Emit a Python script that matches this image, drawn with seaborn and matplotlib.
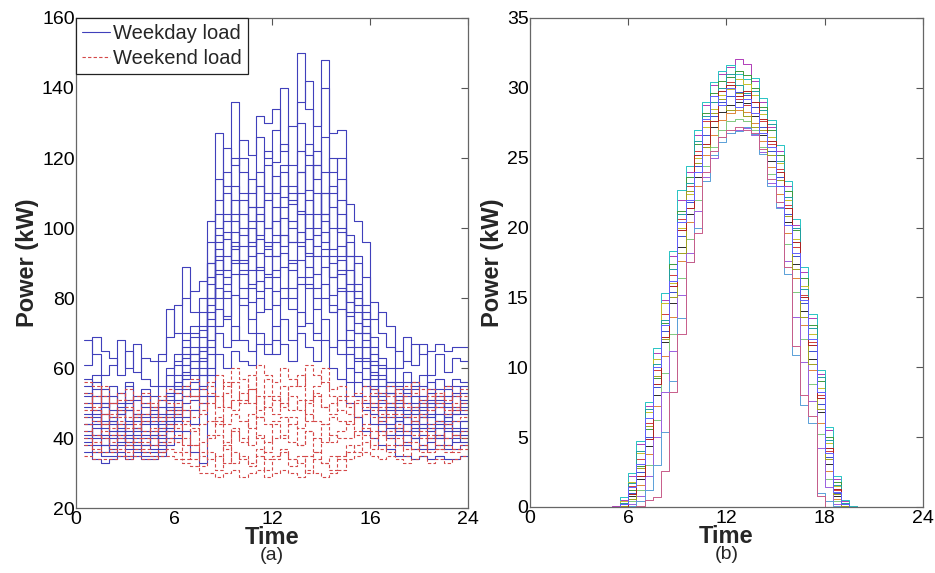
import numpy as np
import pandas as pd
import matplotlib
matplotlib.use("Agg")
import matplotlib.pyplot as plt
from matplotlib.lines import Line2D
import seaborn as sns

# ---------------- data ----------------
# half-hour time stamps (start of each step); last one closes the day
HOURS = list(np.arange(0.5, 24.01, 0.5))

WEEKDAY = {
    "W1": [68, 64, 58, 61, 68, 60, 67, 57, 55, 62, 77, 70,
           89, 76, 80, 96, 127, 112, 136, 116, 110, 126, 120, 128,
           140, 118, 150, 134, 118, 140, 116, 120, 98, 92, 86, 79,
           70, 66, 60, 69, 61, 67, 58, 64, 59, 63, 62, 62],
    "W2": [61, 69, 65, 63, 58, 65, 59, 63, 62, 64, 69, 78,
           80, 82, 85, 102, 108, 123, 118, 125, 121, 132, 130, 134,
           122, 129, 136, 142, 129, 148, 127, 128, 107, 102, 96, 74,
           76, 72, 65, 62, 67, 64, 65, 67, 65, 66, 66, 66],
    "W3": [55, 58, 52, 55, 50, 56, 51, 54, 49, 55, 60, 64,
           70, 72, 76, 90, 114, 104, 120, 110, 106, 116, 110, 119,
           124, 110, 130, 121, 114, 126, 110, 114, 92, 84, 78, 69,
           63, 60, 56, 59, 55, 58, 54, 57, 55, 57, 56, 56],
    "W4": [52, 54, 49, 50, 53, 48, 52, 49, 47, 51, 55, 61,
           66, 69, 71, 86, 100, 102, 108, 104, 102, 106, 108, 110,
           112, 107, 116, 118, 104, 116, 106, 104, 88, 80, 74, 64,
           61, 56, 55, 53, 54, 55, 51, 54, 52, 53, 55, 55],
    "W5": [57, 50, 50, 46, 49, 51, 47, 47, 46, 49, 53, 56,
           63, 64, 72, 80, 98, 97, 104, 100, 95, 104, 100, 106,
           109, 100, 110, 111, 98, 110, 100, 99, 84, 76, 70, 61,
           57, 55, 51, 54, 50, 52, 50, 51, 49, 52, 51, 51],
    "W6": [49, 48, 47, 44, 47, 45, 47, 44, 45, 45, 52, 54,
           58, 62, 65, 78, 94, 92, 99, 95, 92, 97, 95, 102,
           103, 96, 105, 104, 95, 104, 94, 95, 79, 73, 66, 59,
           55, 53, 50, 50, 48, 50, 49, 50, 47, 48, 49, 49],
    "W7": [46, 47, 44, 45, 43, 44, 45, 42, 42, 44, 49, 53,
           57, 60, 63, 74, 91, 88, 95, 91, 88, 93, 92, 96,
           98, 91, 99, 97, 92, 99, 90, 91, 75, 70, 63, 57,
           53, 50, 48, 48, 47, 48, 46, 47, 46, 47, 47, 47],
    "W8": [44, 44, 41, 41, 42, 42, 41, 41, 40, 41, 47, 49,
           55, 56, 60, 72, 87, 84, 91, 87, 83, 89, 87, 92,
           93, 88, 95, 93, 87, 94, 86, 87, 71, 66, 60, 54,
           51, 48, 45, 46, 45, 46, 44, 45, 44, 45, 45, 45],
    "W9": [42, 41, 40, 38, 41, 39, 40, 38, 38, 40, 44, 47,
           52, 54, 58, 68, 83, 80, 87, 83, 79, 85, 83, 88,
           89, 83, 91, 89, 83, 89, 81, 83, 68, 63, 57, 52,
           48, 46, 43, 44, 42, 44, 42, 43, 42, 43, 43, 43],
    "W10": [40, 38, 38, 36, 38, 37, 38, 36, 36, 37, 42, 45,
            50, 51, 55, 64, 77, 75, 81, 78, 74, 80, 77, 82,
            83, 77, 86, 83, 77, 84, 76, 77, 64, 59, 55, 49,
            45, 43, 41, 41, 40, 41, 39, 41, 40, 40, 41, 41],
    "W11": [38, 36, 35, 35, 36, 35, 36, 35, 35, 36, 40, 42,
            46, 48, 50, 58, 70, 66, 72, 68, 65, 70, 67, 72,
            74, 68, 76, 73, 68, 74, 66, 68, 56, 52, 48, 44,
            42, 40, 38, 38, 37, 38, 37, 38, 37, 37, 38, 38],
    "W12": [36, 34, 33, 34, 35, 34, 35, 34, 34, 35, 38, 40,
            42, 36, 33, 52, 64, 60, 65, 62, 61, 67, 64, 68,
            67, 62, 70, 66, 62, 68, 60, 57, 50, 46, 42, 40,
            38, 37, 35, 35, 34, 35, 34, 35, 34, 34, 35, 35],
    "W13": [50, 56, 45, 52, 47, 55, 43, 50, 52, 46, 58, 62,
            68, 58, 66, 84, 96, 110, 102, 90, 114, 98, 118, 92,
            116, 102, 96, 124, 110, 96, 120, 100, 82, 90, 72, 66,
            58, 50, 54, 47, 56, 49, 53, 45, 50, 55, 48, 48],
    "W14": [44, 40, 50, 42, 48, 40, 46, 52, 41, 47, 51, 58,
            61, 66, 58, 76, 104, 86, 112, 98, 106, 88, 100, 115,
            95, 112, 104, 92, 118, 102, 86, 108, 92, 70, 76, 58,
            52, 56, 46, 52, 44, 51, 47, 52, 43, 49, 53, 53],
    "W15": [47, 52, 38, 45, 40, 48, 42, 45, 44, 38, 46, 51,
            64, 70, 54, 90, 80, 99, 90, 108, 84, 112, 96, 86,
            106, 96, 116, 86, 100, 110, 92, 82, 76, 82, 62, 55,
            50, 44, 52, 42, 49, 43, 50, 40, 46, 41, 45, 45],
    "W16": [41, 46, 43, 37, 44, 38, 43, 40, 37, 42, 45, 48,
            54, 52, 62, 66, 92, 74, 96, 80, 100, 82, 94, 78,
            98, 80, 84, 108, 80, 92, 76, 88, 66, 62, 68, 50,
            46, 49, 42, 46, 40, 47, 43, 40, 45, 39, 42, 42],
    "W17": [53, 45, 54, 48, 42, 50, 39, 46, 48, 43, 48, 55,
            59, 64, 69, 80, 88, 116, 94, 120, 96, 102, 122, 98,
            118, 108, 122, 100, 122, 104, 112, 92, 96, 78, 70, 62,
            60, 53, 49, 56, 52, 46, 56, 49, 54, 47, 50, 50],
    "W18": [39, 43, 36, 40, 39, 41, 37, 38, 41, 39, 43, 46,
            48, 44, 52, 60, 72, 82, 68, 88, 70, 76, 86, 64,
            80, 90, 72, 84, 70, 80, 78, 64, 60, 56, 50, 47,
            44, 41, 45, 39, 43, 37, 40, 44, 38, 42, 39, 39],
}

WEEKEND = {
    "E1": [56, 55, 52, 50, 53, 51, 52, 50, 49, 51, 54, 53,
           55, 52, 54, 56, 58, 55, 60, 57, 54, 61, 58, 56,
           60, 57, 55, 61, 58, 56, 54, 55, 52, 53, 55, 54,
           53, 52, 54, 55, 53, 54, 52, 53, 51, 52, 54, 54],
    "E2": [50, 48, 47, 46, 48, 46, 47, 45, 45, 46, 48, 47,
           48, 46, 48, 50, 52, 49, 51, 53, 50, 52, 49, 51,
           50, 52, 48, 50, 52, 49, 50, 51, 49, 50, 51, 50,
           49, 50, 51, 50, 49, 50, 48, 49, 48, 49, 50, 50],
    "E3": [46, 45, 44, 43, 44, 43, 44, 42, 42, 43, 44, 43,
           44, 42, 44, 45, 46, 44, 47, 45, 43, 46, 44, 45,
           46, 44, 43, 47, 45, 44, 46, 45, 44, 46, 47, 46,
           45, 46, 47, 46, 45, 46, 44, 45, 44, 45, 46, 46],
    "E4": [42, 41, 40, 39, 40, 39, 40, 39, 38, 39, 40, 39,
           40, 38, 39, 40, 41, 39, 42, 40, 38, 41, 39, 40,
           41, 39, 38, 42, 40, 39, 41, 40, 40, 42, 43, 42,
           41, 42, 43, 42, 41, 42, 40, 41, 40, 41, 42, 42],
    "E5": [38, 37, 36, 36, 37, 36, 37, 36, 35, 36, 37, 36,
           36, 34, 35, 34, 35, 33, 36, 34, 33, 35, 34, 35,
           36, 34, 33, 35, 34, 33, 35, 34, 36, 38, 39, 38,
           37, 38, 38, 37, 37, 38, 36, 37, 36, 37, 38, 38],
    "E6": [35, 34, 34, 34, 35, 34, 35, 34, 34, 35, 35, 34,
           33, 32, 30, 30, 29, 30, 31, 29, 30, 31, 29, 30,
           31, 30, 29, 31, 30, 29, 30, 31, 34, 35, 36, 35,
           34, 35, 34, 33, 34, 35, 33, 34, 33, 34, 35, 35],
    "E7": [48, 52, 44, 50, 46, 49, 43, 47, 50, 45, 46, 50,
           45, 52, 47, 53, 44, 56, 48, 51, 58, 46, 52, 47,
           55, 48, 51, 45, 53, 49, 47, 52, 50, 46, 52, 48,
           51, 47, 53, 49, 46, 51, 48, 52, 47, 50, 48, 48],
    "E8": [44, 39, 47, 41, 45, 38, 46, 40, 43, 41, 42, 44,
           38, 43, 36, 41, 45, 37, 43, 39, 47, 40, 36, 44,
           40, 46, 38, 42, 36, 44, 39, 42, 45, 41, 44, 40,
           46, 40, 44, 39, 45, 40, 43, 38, 44, 41, 40, 40],
    "E9": [40, 36, 42, 37, 41, 35, 39, 37, 40, 36, 39, 41,
           34, 38, 32, 36, 31, 38, 33, 35, 32, 37, 31, 34,
           37, 32, 35, 30, 36, 33, 31, 35, 38, 36, 41, 37,
           42, 36, 40, 35, 39, 36, 41, 37, 38, 36, 37, 37],
    "E10": [53, 49, 55, 47, 51, 54, 48, 53, 46, 52, 50, 48,
            52, 57, 50, 55, 49, 53, 56, 50, 54, 48, 57, 52,
            49, 55, 58, 51, 55, 60, 52, 48, 47, 51, 49, 53,
            47, 55, 49, 52, 56, 47, 54, 50, 55, 48, 52, 52],
}

# PV output: zero at night, daytime values for steps starting 5.0 ... 19.5
PV_NIGHT_AM = [0, 0, 0, 0, 0, 0, 0, 0, 0]       # 0.5 ... 4.5
PV_NIGHT_PM = [0, 0, 0, 0, 0, 0, 0, 0, 0]       # 20.0 ... 24.0
PV_DAY = {
    "P1": [0.1, 0.5, 2.2, 4.5, 7.2, 11.0, 14.8, 18.0, 22.0, 24.0, 26.6, 28.8, 30.2, 31.0, 31.5,
           32.1, 31.7, 30.5, 29.0, 27.2, 25.5, 23.0, 20.2, 16.8, 13.5, 9.5, 5.5, 2.0, 0.4, 0.1],
    "P2": [0.0, 0.7, 2.4, 4.7, 7.5, 11.4, 15.3, 18.3, 22.7, 24.4, 27.0, 29.0, 30.4, 31.2, 31.6,
           31.0, 30.6, 30.7, 29.3, 27.7, 25.9, 23.3, 20.6, 17.2, 13.8, 9.8, 5.7, 2.2, 0.5, 0.1],
    "P3": [0.0, 0.2, 1.2, 2.9, 5.6, 9.2, 13.2, 17.4, 21.2, 23.6, 26.0, 28.2, 29.6, 30.5, 30.8,
           31.2, 30.9, 30.0, 28.6, 27.0, 25.2, 22.6, 19.8, 16.4, 13.0, 9.0, 5.0, 1.8, 0.3, 0.0],
    "P4": [0.0, 0.3, 1.5, 3.4, 6.0, 9.8, 13.8, 16.6, 20.6, 23.0, 25.5, 27.6, 29.0, 30.0, 30.4,
           29.2, 28.8, 28.6, 27.6, 26.0, 24.2, 21.6, 18.6, 15.2, 11.8, 8.0, 4.0, 1.2, 0.2, 0.0],
    "P5": [0.0, 0.4, 1.8, 3.9, 6.8, 10.6, 14.6, 16.0, 20.0, 22.4, 25.0, 27.2, 28.5, 29.5, 29.9,
           30.6, 30.3, 29.5, 28.1, 26.5, 24.6, 22.0, 19.2, 15.8, 12.4, 8.5, 4.6, 1.5, 0.2, 0.0],
    "P6": [0.0, 0.1, 1.0, 2.5, 5.0, 8.6, 12.6, 15.4, 19.4, 21.8, 24.4, 26.6, 28.0, 29.0, 29.4,
           29.7, 29.5, 28.6, 27.2, 25.5, 23.6, 21.0, 18.0, 14.6, 11.2, 7.4, 3.6, 1.0, 0.1, 0.0],
    "P7": [0.0, 0.1, 0.8, 2.0, 4.4, 8.0, 11.8, 14.6, 18.6, 21.0, 23.6, 25.8, 27.2, 28.3, 28.8,
           29.0, 28.9, 28.0, 26.6, 24.8, 23.0, 20.4, 17.4, 14.0, 10.6, 6.8, 3.1, 0.8, 0.1, 0.0],
    "P8": [0.0, 0.0, 0.6, 1.6, 3.8, 7.2, 10.8, 13.6, 17.6, 20.4, 23.0, 25.2, 26.6, 27.7, 28.2,
           28.4, 28.3, 27.5, 26.2, 24.3, 22.4, 19.6, 16.4, 13.0, 9.8, 6.0, 2.6, 0.6, 0.0, 0.0],
    "P9": [0.0, 0.0, 0.4, 1.2, 3.0, 6.2, 9.6, 12.4, 16.4, 19.2, 22.0, 24.4, 25.8, 27.0, 27.6,
           27.8, 27.6, 27.0, 25.8, 23.8, 21.8, 18.8, 15.4, 12.0, 8.8, 5.2, 2.0, 0.4, 0.0, 0.0],
    "P10": [0.0, 0.0, 0.2, 0.8, 2.2, 5.0, 8.2, 11.2, 15.2, 18.2, 21.2, 23.6, 25.0, 26.5, 26.8,
            27.0, 27.1, 26.6, 25.4, 23.2, 21.5, 17.6, 13.6, 10.4, 7.6, 4.2, 1.4, 0.2, 0.0, 0.0],
    "P11": [0.0, 0.0, 0.1, 0.4, 1.2, 3.0, 5.4, 9.0, 13.5, 17.5, 20.0, 23.3, 25.2, 26.1, 26.8,
            26.9, 27.2, 26.7, 25.3, 23.0, 21.4, 16.7, 10.9, 7.3, 6.0, 1.0, 0.4, 0.1, 0.0, 0.0],
    "P12": [0.0, 0.0, 0.0, 0.1, 0.5, 0.7, 2.6, 8.2, 12.4, 17.5, 19.6, 24.0, 25.5, 26.5, 27.0,
            27.2, 27.0, 26.8, 25.6, 23.5, 21.8, 17.2, 11.5, 8.0, 6.5, 0.8, 0.0, 0.0, 0.0, 0.0],
    "P13": [0.0, 0.3, 1.7, 4.0, 7.0, 10.2, 13.4, 17.0, 21.0, 23.2, 26.2, 28.0, 29.0, 30.0, 31.0,
            30.2, 29.6, 29.8, 28.4, 27.4, 24.8, 22.2, 20.0, 15.6, 12.8, 9.3, 4.8, 1.6, 0.3, 0.0],
    "P14": [0.0, 0.1, 0.6, 2.8, 5.8, 9.4, 12.0, 15.0, 18.2, 22.6, 24.6, 25.8, 28.2, 29.2, 28.4,
            29.6, 28.0, 27.2, 27.0, 25.2, 23.4, 20.8, 17.0, 13.6, 10.2, 7.0, 3.4, 0.9, 0.1, 0.0],
    "P15": [0.0, 0.0, 0.9, 2.2, 4.9, 8.8, 12.2, 15.8, 19.8, 21.4, 25.2, 26.0, 27.6, 29.8, 30.2,
            29.4, 29.8, 29.0, 27.8, 26.2, 24.0, 21.4, 19.0, 15.0, 11.6, 7.8, 4.2, 1.3, 0.2, 0.0],
    "P16": [0.0, 0.2, 1.4, 3.1, 6.4, 10.0, 13.0, 16.2, 20.4, 22.0, 24.0, 27.8, 29.4, 28.8, 30.0,
            28.6, 29.2, 28.2, 26.8, 25.8, 23.0, 20.2, 18.2, 14.8, 12.0, 8.2, 3.9, 1.1, 0.2, 0.0],
}

X_TICKS = [0, 6, 12, 18, 24]
X_TICKLABELS_A = ["0", "6", "12", "16", "24"]   # as printed in the original
X_TICKLABELS_B = ["0", "6", "12", "18", "24"]
Y_TICKS_A = [20, 40, 60, 80, 100, 120, 140, 160]
Y_TICKS_B = [0, 5, 10, 15, 20, 25, 30, 35]

PV_COLORS = ["#b03cb8", "#27c4c4", "#3d9a3d", "#d23c3c", "#c8c02a", "#3a4fd0",
             "#2a2a2a", "#e0863a", "#7fc97f", "#9a5fe0", "#5aa0d8", "#c85c8a",
             "#20a0a0", "#a0a020", "#b02020", "#6060ff"]

# ---------------- long-form tables ----------------
def to_long(d):
    rows = []
    for name, vals in d.items():
        for t, v in zip(HOURS, vals):
            rows.append((name, t, v))
    return pd.DataFrame(rows, columns=["day", "Time", "Power"])

df_wd = to_long(WEEKDAY)
df_we = to_long(WEEKEND)
df_pv = to_long({k: PV_NIGHT_AM + v + PV_NIGHT_PM for k, v in PV_DAY.items()})

# ---------------- figure ----------------
sns.set_theme(style="white")
plt.rcParams["font.family"] = ["Liberation Sans", "DejaVu Sans"]

fig = plt.figure(figsize=(9.35, 5.73), dpi=100)
axA = fig.add_axes([0.0813, 0.1134, 0.4193, 0.8552])
axB = fig.add_axes([0.5668, 0.1152, 0.4203, 0.8534])

BLUE = "#4040bb"
RED = "#d44848"
DASH = (0, (3, 2))

sns.lineplot(data=df_wd, x="Time", y="Power", units="day", estimator=None,
             color=BLUE, lw=0.8, drawstyle="steps-post", ax=axA, legend=False)
sns.lineplot(data=df_we, x="Time", y="Power", units="day", estimator=None,
             color=RED, lw=0.8, linestyle=DASH, drawstyle="steps-post",
             ax=axA, legend=False)

sns.lineplot(data=df_pv, x="Time", y="Power", hue="day", units="day", estimator=None,
             palette=PV_COLORS, lw=0.7, drawstyle="steps-post", ax=axB, legend=False)

for ax, yt, xtl, lab, ylim in [
    (axA, Y_TICKS_A, X_TICKLABELS_A, "(a)", (20, 160)),
    (axB, Y_TICKS_B, X_TICKLABELS_B, "(b)", (0, 35)),
]:
    ax.set_xlim(0, 24)
    ax.set_ylim(*ylim)
    ax.set_xticks(X_TICKS)
    ax.set_xticklabels(xtl)
    ax.set_yticks(yt)
    ax.tick_params(direction="in", length=5, width=0.8, color="#555555",
                   top=True, right=True, labelsize=14, pad=2,
                   labelcolor="black")
    ax.tick_params(axis="y", pad=1)
    for s in ax.spines.values():
        s.set_color("#666666")
        s.set_linewidth(0.9)
    ax.set_xlabel("Time", fontsize=17, fontweight="bold", labelpad=-1)
    ax.set_ylabel("Power (kW)", fontsize=17, fontweight="bold", labelpad=2)
    ax.text(0.5, -0.08, lab, transform=ax.transAxes, ha="center", va="top",
            fontsize=14)
    ax.grid(False)

handles = [Line2D([], [], color=BLUE, lw=0.8),
           Line2D([], [], color=RED, lw=0.8, linestyle=DASH)]
leg = axA.legend(handles, ["Weekday load", "Weekend load"], loc="upper left",
                 fontsize=14.5, handlelength=1.4, handletextpad=0.15,
                 borderpad=0.3, labelspacing=0.3, borderaxespad=0.0,
                 fancybox=False, framealpha=1)
leg.get_frame().set_edgecolor("#222222")
leg.get_frame().set_linewidth(0.9)

fig.savefig("out.png", dpi=100, facecolor="white")
